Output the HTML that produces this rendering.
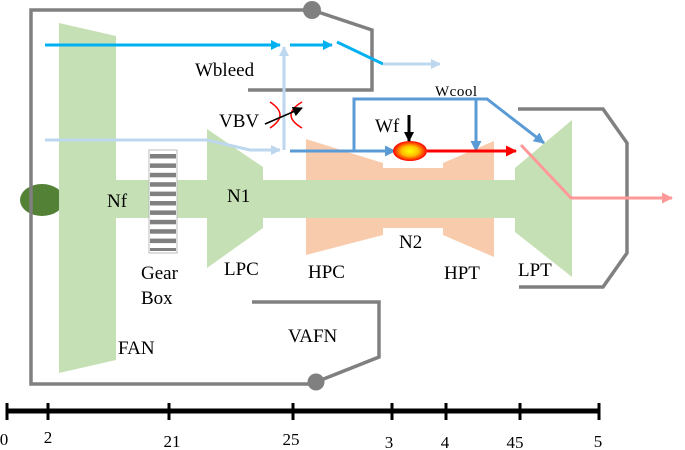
<!DOCTYPE html>
<html><head><meta charset="utf-8"><style>
html,body{margin:0;padding:0;background:#fff;}
svg{display:block;}
text{font-family:"Liberation Serif",serif;fill:#000;}
</style></head><body>
<svg width="685" height="450" viewBox="0 0 685 450" xmlns="http://www.w3.org/2000/svg">
<defs>
<marker id="mc" markerWidth="10" markerHeight="10" refX="9" refY="5" orient="auto" markerUnits="userSpaceOnUse"><path d="M0,0 L10,5 L0,10 Z" fill="#00b0f0"/></marker>
<marker id="ml" markerWidth="10" markerHeight="10" refX="9" refY="5" orient="auto" markerUnits="userSpaceOnUse"><path d="M0,0 L10,5 L0,10 Z" fill="#bdd7ee"/></marker>
<marker id="mb" markerWidth="11" markerHeight="11" refX="10" refY="5.5" orient="auto" markerUnits="userSpaceOnUse"><path d="M0,0 L11,5.5 L0,11 Z" fill="#5b9bd5"/></marker>
<marker id="mr" markerWidth="11" markerHeight="11" refX="10" refY="5.5" orient="auto" markerUnits="userSpaceOnUse"><path d="M0,0 L11,5.5 L0,11 Z" fill="#ff0000"/></marker>
<marker id="mp" markerWidth="11" markerHeight="11" refX="10" refY="5.5" orient="auto" markerUnits="userSpaceOnUse"><path d="M0,0 L11,5.5 L0,11 Z" fill="#ff9999"/></marker>
<marker id="mk" markerWidth="10" markerHeight="10" refX="9" refY="5" orient="auto" markerUnits="userSpaceOnUse"><path d="M0,0 L10,5 L0,10 Z" fill="#000"/></marker>
<radialGradient id="g" cx="50%" cy="50%" r="50%"><stop offset="0" stop-color="#ffff00"/><stop offset="0.5" stop-color="#ffc000"/><stop offset="1" stop-color="#ff0000"/></radialGradient>
</defs>
<polygon points="306,139 383,163 383,168 443,168 443,163 494,141 494,257 443,235 443,228 383,228 383,235 306,255" fill="#f8cbad"/>
<ellipse cx="42" cy="200" rx="22" ry="16" fill="#538135"/>
<rect x="116" y="180" width="402" height="38" fill="#c5e0b4"/>
<polygon points="59,23 116,36 116,360 59,373" fill="#c5e0b4"/>
<polygon points="207,129 263,167 263,228 207,268" fill="#c5e0b4"/>
<polygon points="515,168 572,120 572,277 515,232" fill="#c5e0b4"/>
<rect x="149" y="150" width="28" height="103" fill="#fff" stroke="#bbb" stroke-width="1"/>
<g fill="#808080">
<rect x="150" y="154" width="26" height="4.5"/><rect x="150" y="163.4" width="26" height="4.5"/><rect x="150" y="172.8" width="26" height="4.5"/><rect x="150" y="182.2" width="26" height="4.5"/><rect x="150" y="191.6" width="26" height="4.5"/><rect x="150" y="201" width="26" height="4.5"/><rect x="150" y="210.4" width="26" height="4.5"/><rect x="150" y="219.8" width="26" height="4.5"/><rect x="150" y="229.2" width="26" height="4.5"/><rect x="150" y="238.6" width="26" height="4.5"/><rect x="150" y="248" width="26" height="3"/>
</g>
<g fill="none" stroke="#808080" stroke-width="3.5">
<polyline points="312,10 31,10 31,384 316,384"/>
<polyline points="312,10 372,30 372,90 248,90"/>
<polyline points="316,382 379,357 379,302 252,302"/>
<polyline points="518,109 603,109 627,143 627,253 603,287 519,287"/>
</g>
<circle cx="312" cy="10" r="9" fill="#808080"/>
<circle cx="316" cy="382" r="8.5" fill="#808080"/>
<g stroke="#00b0f0" stroke-width="3" fill="none">
<line x1="45" y1="45" x2="280" y2="45" marker-end="url(#mc)"/>
<line x1="290" y1="45" x2="332" y2="45" marker-end="url(#mc)"/>
<line x1="337" y1="42" x2="383" y2="64"/>
</g>
<g stroke="#bdd7ee" stroke-width="3" fill="none">
<line x1="383" y1="64" x2="440" y2="64" marker-end="url(#ml)"/>
<line x1="284" y1="150" x2="284" y2="47" marker-end="url(#ml)"/>
<polyline points="45,140 207,140 250,150 280,150" marker-end="url(#ml)"/>
</g>
<path d="M270,102 Q290,115 270,128" fill="none" stroke="#ff0000" stroke-width="1.5"/>
<path d="M302,102 Q280,115 302,128" fill="none" stroke="#ff0000" stroke-width="1.5"/>
<line x1="265" y1="124" x2="302" y2="108" stroke="#000" stroke-width="1.5" marker-end="url(#mk)"/>
<g stroke="#5b9bd5" stroke-width="3" fill="none">
<line x1="290" y1="151" x2="395" y2="151" marker-end="url(#mb)"/>
<polyline points="354,151 354,99 487,99 544,143" marker-end="url(#mb)"/>
<line x1="476" y1="99" x2="476" y2="151" marker-end="url(#mb)"/>
</g>
<line x1="427" y1="151" x2="516" y2="151" stroke="#ff0000" stroke-width="3" marker-end="url(#mr)"/>
<ellipse cx="410" cy="151" rx="17" ry="10" fill="url(#g)"/>
<line x1="409" y1="115" x2="409" y2="141" stroke="#000" stroke-width="3" marker-end="url(#mk)"/>
<polyline points="521,145 571,198 672,198" fill="none" stroke="#ff9999" stroke-width="3" marker-end="url(#mp)"/>
<g font-size="19">
<text x="195" y="76">Wbleed</text>
<text x="219" y="127">VBV</text>
<text x="375" y="132">Wf</text>
<text x="107" y="207">Nf</text>
<text x="227" y="202">N1</text>
<text x="399" y="248">N2</text>
<text x="141" y="279">Gear</text>
<text x="141" y="304">Box</text>
<text x="224" y="275">LPC</text>
<text x="308" y="278">HPC</text>
<text x="444" y="279">HPT</text>
<text x="518" y="276">LPT</text>
<text x="118" y="354">FAN</text>
<text x="288" y="342">VAFN</text>
</g>
<text x="435" y="96" font-size="15" letter-spacing="0.5">Wcool</text>
<line x1="6" y1="411" x2="600" y2="411" stroke="#000" stroke-width="5"/>
<g stroke="#000" stroke-width="3">
<line x1="7" y1="403" x2="7" y2="420"/><line x1="48" y1="403" x2="48" y2="420"/><line x1="169" y1="403" x2="169" y2="420"/><line x1="293" y1="403" x2="293" y2="420"/><line x1="392" y1="403" x2="392" y2="420"/><line x1="446" y1="403" x2="446" y2="420"/><line x1="520" y1="403" x2="520" y2="420"/><line x1="599" y1="403" x2="599" y2="420"/>
</g>
<g font-size="17" text-anchor="middle" style="font-family:'Liberation Sans',sans-serif">
<text x="4" y="445">0</text><text x="48" y="443">2</text><text x="172" y="447">21</text><text x="291" y="445">25</text><text x="389" y="448">3</text><text x="445" y="448">4</text><text x="515" y="448">45</text><text x="598" y="447">5</text>
</g>
</svg>
</body></html>
